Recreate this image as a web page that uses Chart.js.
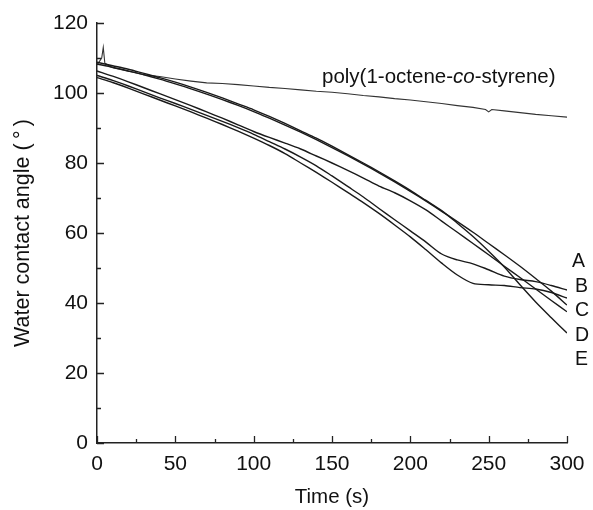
<!DOCTYPE html>
<html>
<head>
<meta charset="utf-8">
<script src="https://cdn.jsdelivr.net/npm/chart.js@4.4.1/dist/chart.umd.min.js"></script>
<style>
  html, body { margin: 0; padding: 0; background: #fff; }
  #wrap { width: 593px; height: 510px; position: relative; }
</style>
</head>
<body>
<div id="wrap"><canvas id="c" width="593" height="510"></canvas></div>
<script>
// ---- data ----
const timeS = [0,10,20,30,40,50,60,70,80,90,100,110,120,130,140,150,160,170,180,190,200,210,220,230,240,250,260,270,280,290,300];
const curveA = [105.0,103.6,102.0,100.3,98.6,97.0,95.3,93.6,91.9,90.1,88.2,86.1,84.0,81.7,79.2,76.3,73.3,70.3,67.0,63.8,60.6,57.4,54.0,52.3,51.2,49.5,47.7,46.7,46.1,45.0,43.7];
const curveB = [104.4,103.0,101.4,99.7,98.0,96.3,94.6,92.8,91.0,89.1,87.1,85.0,82.7,80.0,77.3,74.5,71.6,68.7,65.6,62.3,58.9,55.2,51.4,48.0,45.6,45.2,45.0,44.4,44.0,43.0,41.4];
const curveC = [108.3,107.35,106.3,105.2,103.95,102.6,101.2,99.7,98.1,96.45,94.7,92.8,90.85,88.8,86.65,84.4,82.1,79.7,77.2,74.6,71.9,69.1,66.2,63.25,60.2,57.0,53.8,50.5,47.0,43.4,39.4];
const curveD = [106.3,104.8,103.2,101.5,99.8,98.1,96.4,94.6,92.8,90.9,89.0,87.3,85.7,84.0,82.0,80.0,77.9,75.7,73.4,71.5,69.2,66.6,63.4,60.2,57.0,53.8,50.5,47.3,44.0,40.7,37.5];
const curveE = [108.8,107.8,106.8,105.6,104.4,103.1,101.7,100.2,98.6,96.9,95.2,93.3,91.3,89.2,87.1,84.8,82.4,80.0,77.5,74.9,72.2,69.3,66.4,62.8,59.0,54.8,50.3,45.2,40.3,35.8,31.4];
const polyTime = [0,3,4,5,10,20,30,40,50,60,70,80,90,100,110,120,130,140,150,160,170,180,190,200,210,220,230,240,248,250,252,260,270,280,290,300];
const polyAngle = [108.0,110.0,113.0,108.5,107.2,106.2,105.2,104.7,104.0,103.4,102.9,102.7,102.4,102.0,101.6,101.3,100.9,100.5,100.2,99.8,99.3,98.9,98.4,98.0,97.5,97.0,96.4,95.9,95.3,94.6,95.3,94.9,94.4,93.9,93.5,93.1];
const curveLabels = ['A','B','C','D','E'];
const xTicks = [0,50,100,150,200,250,300];
const yTicks = [0,20,40,60,80,100,120];

const pts = (xs, ys) => xs.map((x, i) => ({x: x, y: ys[i]}));
const lineColor = '#1a1a1a';
const series = [curveA, curveB, curveC, curveD, curveE];
const datasets = series.map((s, i) => ({
  label: curveLabels[i], data: pts(timeS, s), borderColor: lineColor, borderWidth: 1.4,
  pointRadius: 0, fill: false, tension: 0.3
}));
datasets.push({label: 'poly(1-octene-co-styrene)', data: pts(polyTime, polyAngle), borderColor: '#333',
  borderWidth: 1.1, pointRadius: 0, fill: false, tension: 0});

const FONT = "'Liberation Sans', Arial, sans-serif";

const decor = {
  id: 'decor',
  afterDraw(chart) {
    const ctx = chart.ctx;
    const xs = chart.scales.x, ys = chart.scales.y;
    const x0 = xs.getPixelForValue(0), yb = ys.getPixelForValue(0);
    ctx.save();
    ctx.strokeStyle = '#222';
    ctx.lineWidth = 1.3;
    ctx.beginPath();
    for (let v = 0; v <= 300; v += 25) {
      const p = Math.round(xs.getPixelForValue(v)) + 0.5;
      const len = (v % 50 === 0) ? 7 : 4;
      ctx.moveTo(p, yb); ctx.lineTo(p, yb - len);
    }
    for (let v = 0; v <= 120; v += 10) {
      const p = Math.round(ys.getPixelForValue(v)) + 0.5;
      const len = (v % 20 === 0) ? 7 : 4;
      ctx.moveTo(x0, p); ctx.lineTo(x0 + len, p);
    }
    ctx.stroke();
    // curve labels
    ctx.fillStyle = '#111';
    ctx.font = '19.5px ' + FONT;
    ctx.textBaseline = 'middle';
    ctx.textAlign = 'left';
    const lx = [572, 575, 575, 575, 575];
    const ly = [262, 287, 311, 336, 360];
    curveLabels.forEach((t, i) => ctx.fillText(t, lx[i], ly[i]));
    // polymer label
    let px = 322; const py = 77;
    const parts = [['poly(1-octene-', 'normal'], ['co', 'italic'], ['-styrene)', 'normal']];
    parts.forEach(([t, st]) => {
      ctx.font = (st === 'italic' ? 'italic ' : '') + '20.5px ' + FONT;
      ctx.fillText(t, px, py);
      px += ctx.measureText(t).width;
    });
    ctx.restore();
  }
};

new Chart(document.getElementById('c'), {
  type: 'line',
  data: { datasets },
  options: {
    responsive: false,
    animation: false,
    devicePixelRatio: 1,
    layout: { padding: { left: 0, right: 26, top: 23, bottom: 0 } },
    plugins: { legend: { display: false }, tooltip: { enabled: false } },
    scales: {
      x: {
        type: 'linear', min: 0, max: 300,
        afterBuildTicks: s => { s.ticks = xTicks.map(v => ({value: v})); },
        afterFit: s => { s.height = 67; s.paddingLeft = 0; s.paddingRight = 0; },
        grid: { display: false, drawTicks: false },
        border: { display: true, color: '#222', width: 1.5 },
        ticks: { color: '#111', font: { family: FONT, size: 21 }, padding: 9, maxRotation: 0 },
        title: { display: true, text: 'Time (s)', color: '#111', font: { family: FONT, size: 20.5 }, padding: { top: 0, bottom: 0 } }
      },
      y: {
        type: 'linear', min: 0, max: 120,
        afterBuildTicks: s => { s.ticks = yTicks.map(v => ({value: v})); },
        afterFit: s => { s.width = 97; s.paddingTop = 0; s.paddingBottom = 0; },
        grid: { display: false, drawTicks: false },
        border: { display: true, color: '#222', width: 1.5 },
        ticks: { color: '#111', font: { family: FONT, size: 21 }, padding: 9 },
        title: { display: true, text: 'Water contact angle (\u2009°\u2009)', color: '#111', font: { family: FONT, size: 21.5 }, padding: { top: 10, bottom: 0 } }
      }
    }
  },
  plugins: [decor]
});
</script>
</body>
</html>
